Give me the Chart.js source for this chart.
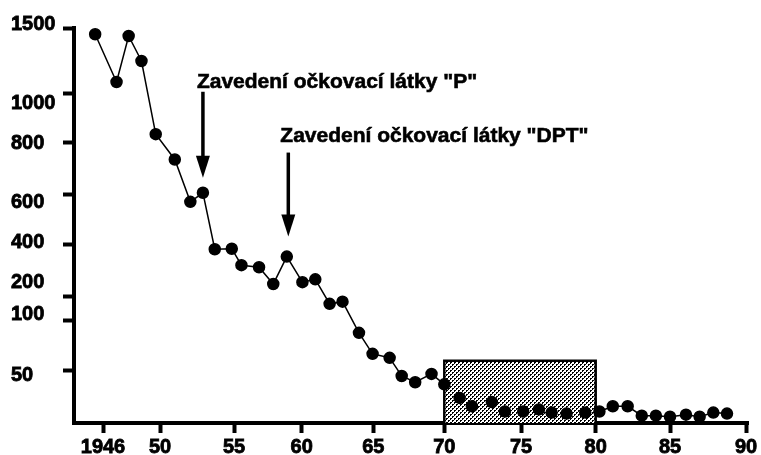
<!DOCTYPE html>
<html>
<head>
<meta charset="utf-8">
<script src="https://cdn.jsdelivr.net/npm/chart.js@4.4.1/dist/chart.umd.min.js"></script>
<style>
  body { margin: 0; background: #fff; }
  #wrap { width: 761px; height: 455px; }
</style>
</head>
<body>
<div id="wrap"><canvas id="mychart"></canvas></div>
<script>
const years = [1945.45, 1946.95, 1947.8, 1948.7, 1949.7, 1951.0, 1952.05, 1952.9, 1953.7, 1954.85,
    1955.55, 1956.85, 1957.9, 1958.9, 1960.05, 1960.95, 1961.95, 1962.85, 1964.0, 1964.95,
    1966.15, 1967.0, 1967.95, 1969.1, 1970.0, 1971.0, 1971.8, 1973.1, 1973.95, 1975.15,
    1976.2, 1977.05, 1978.05, 1979.3, 1980.25, 1981.15, 1982.15, 1983.1, 1984.05, 1985.0,
    1986.05, 1986.95, 1987.85, 1988.75];
const cases = [1452, 1088, 1439, 1248, 835, 735, 569, 605, 381, 383,
    320, 312, 248, 353, 255, 266, 170, 179, 88, 67,
    63, 45, 39, 47, 37, 24, 16, 20, 11, 11,
    13, 10, 9, 10, 11, 16, 16, 7, 7, 6,
    8, 6, 10, 9];

// shaded period
const boxYears = [1970, 1980];
const boxTop = 60;

// the original axes are hand drawn and not linear: tick values and where they sit
const xTickYears = [1946, 1950, 1955, 1960, 1965, 1970, 1975, 1980, 1985, 1990];
const xTickLabels = ['1946', '50', '55', '60', '65', '70', '75', '80', '85', '90'];
const xTickPos = [29, 86, 160, 227.7, 299.3, 370.3, 447, 521.7, 596, 672];
const xAxisEnd = 674;

const yTickValues = [0, 50, 100, 200, 400, 600, 800, 1000, 1500];
const yTickPos = [0, 52.3, 102.3, 126.6, 179, 229.3, 280.6, 330, 395.6];
const yLabels = ['50', '100', '200', '400', '600', '800', '1000', '1500'];
const yLabelPos = [48, 108.6, 140.5, 180.5, 220.5, 280, 320.5, 398.8];

const notes = [
    { text: 'Zavedení očkovací látky "P"', at: 7, ax: 0, gap: 15, len: 86, dx: -6, rise: 4 },
    { text: 'Zavedení očkovací látky "DPT"', at: 13, ax: 1.5, gap: 20, len: 84, dx: -8, rise: 11 }
];

const FONT = '"Liberation Sans", Arial, sans-serif';

// piecewise-linear map from a value to its position on the drawn axis
const interp = (v, from, to) => {
    let i = 0;
    while (i < from.length - 2 && v > from[i + 1]) i++;
    return to[i] + (v - from[i]) * (to[i + 1] - to[i]) / (from[i + 1] - from[i]);
};
const px = yr => interp(yr, xTickYears, xTickPos);
const py = v => interp(v, yTickValues, yTickPos);

const points = years.map((yr, i) => ({ x: px(yr), y: py(cases[i]) }));
const boxPts = [
    { x: px(boxYears[0]), y: 0 }, { x: px(boxYears[0]), y: py(boxTop) },
    { x: px(boxYears[1]), y: py(boxTop) }, { x: px(boxYears[1]), y: 0 }
];
const inBox = yr => yr >= boxYears[0] - 0.05 && yr <= boxYears[1] + 0.3;

function stipple() {
    const c = document.createElement('canvas');
    c.width = 4; c.height = 4;
    const g = c.getContext('2d');
    g.fillStyle = '#fff'; g.fillRect(0, 0, 4, 4);
    g.fillStyle = '#000';
    g.fillRect(0, 0, 2, 1); g.fillRect(0, 1, 1, 1);
    g.fillRect(2, 2, 2, 1); g.fillRect(2, 3, 1, 1);
    return g.createPattern(c, 'repeat');
}

const notePlugin = {
    id: 'notes',
    afterDatasetsDraw(chart) {
        const ctx = chart.ctx;
        const pts = chart.getDatasetMeta(1).data;
        ctx.save();
        ctx.fillStyle = '#000';
        ctx.strokeStyle = '#000';
        ctx.font = 'bold 21px ' + FONT;
        ctx.textAlign = 'left';
        ctx.textBaseline = 'alphabetic';
        notes.forEach(n => {
            const p = pts[n.at];
            const x = p.x + n.ax, tip = p.y - n.gap, top = tip - n.len;
            ctx.lineWidth = 3.5;
            ctx.beginPath();
            ctx.moveTo(x, top);
            ctx.lineTo(x, tip - 18);
            ctx.stroke();
            ctx.beginPath();
            ctx.moveTo(x - 7, tip - 22);
            ctx.lineTo(x + 7, tip - 22);
            ctx.lineTo(x, tip);
            ctx.closePath();
            ctx.fill();
            ctx.lineWidth = 0.6;
            ctx.strokeText(n.text, x + n.dx, top - n.rise);
            ctx.fillText(n.text, x + n.dx, top - n.rise);
        });
        ctx.restore();
    }
};

const tickFont = { family: FONT, size: 20, weight: 'bold' };

const ctx = document.getElementById('mychart').getContext('2d');
let myChart = new Chart(ctx, {
    type: 'scatter',
    data: {
        datasets: [
            {
                data: boxPts,
                showLine: true,
                borderColor: '#000',
                borderWidth: 2.5,
                backgroundColor: stipple(),
                fill: 'origin',
                pointRadius: 0,
                order: 2
            },
            {
                data: points,
                showLine: true,
                borderColor: '#000',
                borderWidth: 1.5,
                backgroundColor: '#000',
                pointBackgroundColor: '#000',
                pointBorderColor: '#000',
                pointRadius: 5.5,
                segment: {
                    borderColor: c => inBox(years[c.p0DataIndex]) && inBox(years[c.p1DataIndex]) ? 'rgba(0,0,0,0)' : '#000'
                },
                order: 1
            }
        ]
    },
    options: {
        responsive: true,
        maintainAspectRatio: false,
        animation: false,
        layout: { padding: { left: 11, top: 28, right: 13, bottom: 0 } },
        plugins: { legend: { display: false }, tooltip: { enabled: false } },
        scales: {
            x: {
                type: 'linear',
                min: 0,
                max: xAxisEnd,
                afterFit: s => { s.height = 32; },
                afterBuildTicks: s => {
                    s.ticks = xTickPos.map((p, i) => ({ value: p, text: xTickLabels[i] }));
                },
                ticks: {
                    autoSkip: false,
                    maxRotation: 0,
                    padding: 2,
                    color: '#000',
                    textStrokeColor: '#000',
                    textStrokeWidth: 0.8,
                    font: tickFont,
                    callback: (v, i, t) => t[i].text
                },
                grid: { drawOnChartArea: false, tickLength: 10, tickWidth: 4, tickColor: '#000' },
                border: { width: 4, color: '#000' }
            },
            y: {
                type: 'linear',
                min: 0,
                max: yTickPos[yTickPos.length - 1],
                afterFit: s => { s.width = 63; },
                afterBuildTicks: s => {
                    const marks = yTickPos.slice(1).map(p => ({ value: p, text: '' }));
                    const labels = yLabelPos.map((p, i) => ({ value: p, text: yLabels[i], label: true }));
                    s.ticks = marks.concat(labels).sort((a, b) => a.value - b.value);
                },
                ticks: {
                    autoSkip: false,
                    crossAlign: 'far',
                    padding: 8,
                    color: '#000',
                    textStrokeColor: '#000',
                    textStrokeWidth: 0.8,
                    font: tickFont,
                    callback: (v, i, t) => t[i].text
                },
                grid: {
                    drawOnChartArea: false,
                    tickLength: 11,
                    tickWidth: 4,
                    tickColor: c => (c.tick && c.tick.label) ? 'rgba(0,0,0,0)' : '#000'
                },
                border: { width: 4, color: '#000' }
            }
        }
    },
    plugins: [notePlugin]
});
</script>
</body>
</html>
